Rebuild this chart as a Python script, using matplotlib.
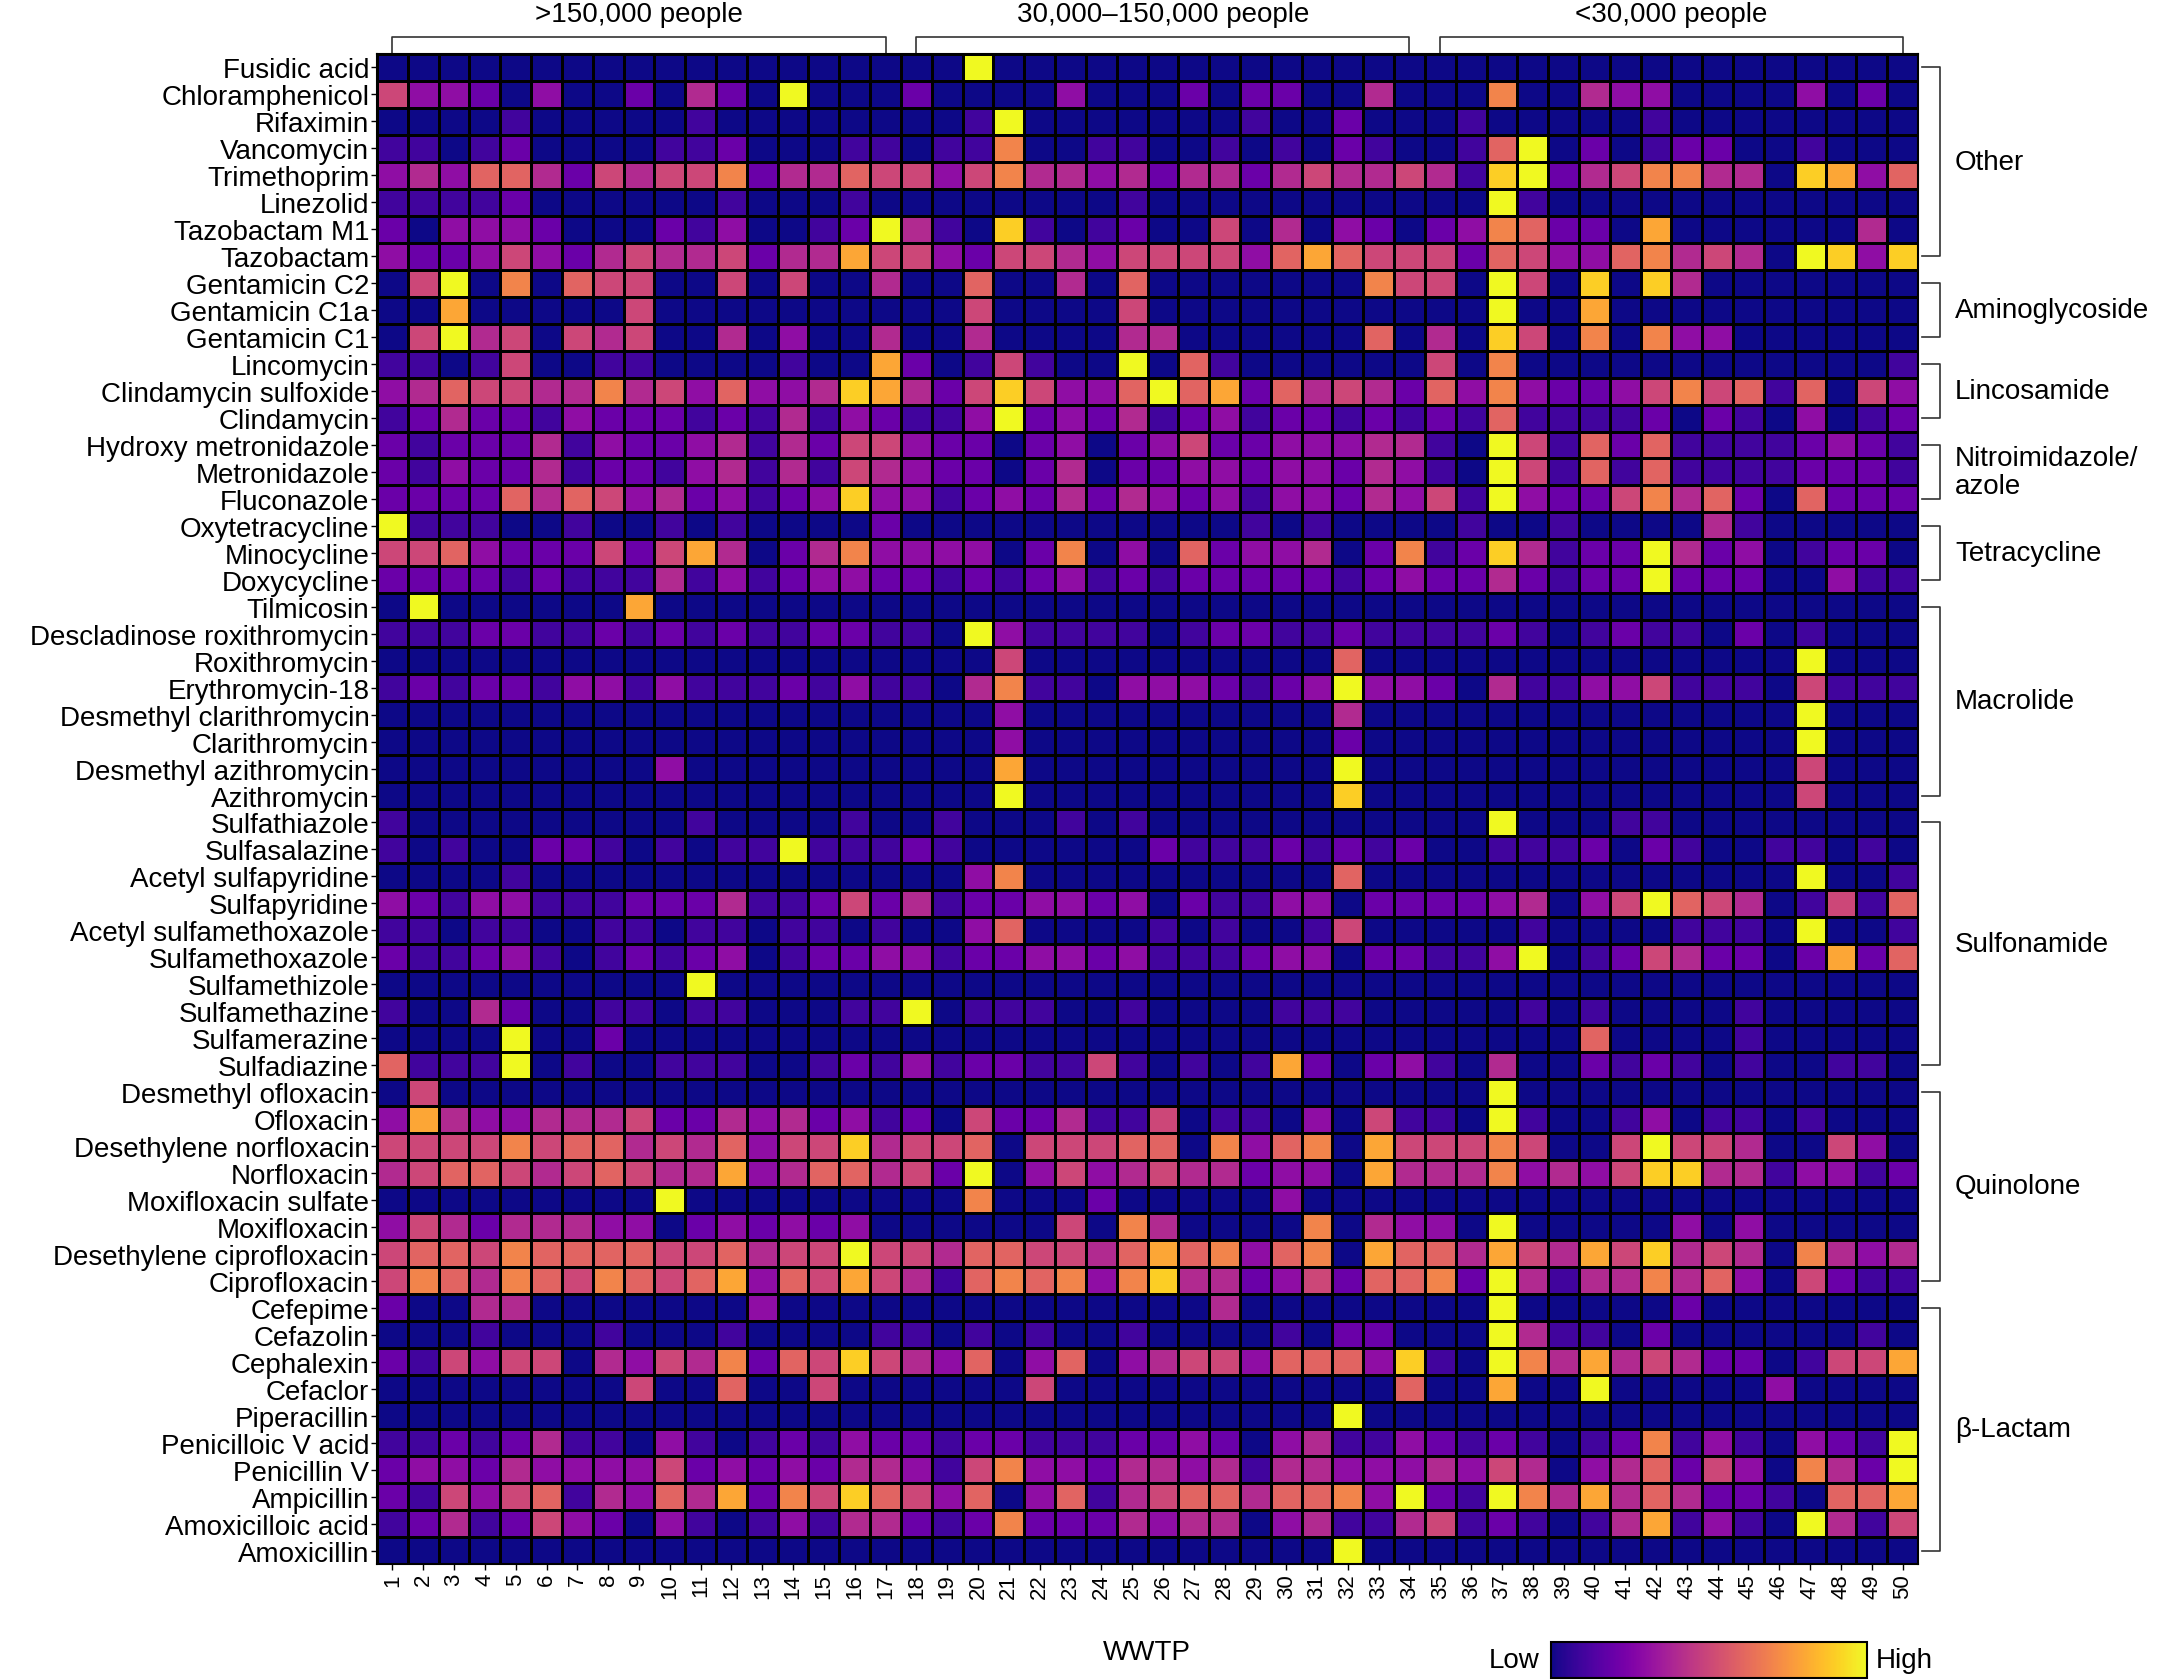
import numpy as np
import matplotlib.pyplot as plt
from matplotlib import colors, colorbar

plt.rcParams['font.family'] = ['Liberation Sans', 'DejaVu Sans']

# relative level per cell: 0-9 -> 0.0-0.9, y -> 1.0 (max)
# each row is WWTP 1-17 | 18-34 | 35-50
other_names = ["Fusidic acid", "Chloramphenicol", "Rifaximin", "Vancomycin",
               "Trimethoprim", "Linezolid", "Tazobactam M1", "Tazobactam"]
other = [
    "00000000000000000 00y00000000000000 0000000000000000",
    "5332030020420y000 20000300020220040 0070043300003020",
    "00001000001000000 001y0000000100200 0100000100000000",
    "11012000011200011 01170011001010210 016y020122001000",
    "34366425455724465 53574434244245445 419y245774409836",
    "11112000000100010 00000001000000000 00y1000000000000",
    "2033320002130012y 41091012005040320 2376220800000040",
    "32235324544524485 53255435555368655 526533674540y939",
]
amino_names = ["Gentamicin C2", "Gentamicin C1a", "Gentamicin C1"]
amino = [
    "05y07065500505004 00600406000000075 50y5090940000000",
    "00800000500000000 00500005000000000 00y0080000000000",
    "05y45054500403004 00400004400000060 4095070733000000",
]
linco_names = ["Lincomycin", "Clindamycin sulfoxide", "Clindamycin"]
linco = [
    "11015001100001008 2015100y061000000 5070000000000001",
    "34655447453633498 42595336y68264542 6373223575616053",
    "12422132221214132 113y2324123122121 2161111202103012",
]
nitro_names = ["Hydroxy metronidazole", "Metronidazole", "Fluconazole"]
nitro = [
    "21222413223414255 32202302352233344 10y5162611112321",
    "21322412213414154 32202402233233243 10y5161611112221",
    "22226465342312393 31232424323133243 51y3225746206222",
]
tetra_names = ["Oxytetracycline", "Minocycline", "Doxycycline"]
tetra = [
    "y1110010010100002 00000000000101000 0100100004100000",
    "55632225258402473 33302703062334027 1294122y42301220",
    "22221211141312332 21212312122222123 2242122y22200311",
]
macro_names = ["Tilmicosin", "Descladinose roxithromycin", "Roxithromycin",
               "Erythromycin-18", "Desmethyl clarithromycin", "Clarithromycin",
               "Desmethyl azithromycin", "Azithromycin"]
macro = [
    "0y000000800000000 00000000000000000 0000000000000000",
    "11122112121211221 10y31111012211211 1121012110201000",
    "00000000000000000 00050000000000600 000000000000y000",
    "12122133131112131 10471103332123y33 2041133511105111",
    "00000000000000000 00030000000000400 000000000000y000",
    "00000000000000000 00030000000000200 000000000000y000",
    "00000000030000000 00080000000000y00 0000000000005000",
    "00000000000000000 000y0000000000900 0000000000005000",
]
sulfa_names = ["Sulfathiazole", "Sulfasalazine", "Acetyl sulfapyridine",
               "Sulfapyridine", "Acetyl sulfamethoxazole", "Sulfamethoxazole",
               "Sulfamethizole", "Sulfamethazine", "Sulfamerazine", "Sulfadiazine"]
sulfa = [
    "10000000001000010 01000101000000000 00y0001100000000",
    "1010022101011y111 21000000211121212 0011120210011010",
    "00001000000000000 00370000000000600 000000000000y001",
    "32133111222411252 41223323021133022 2234035y65401516",
    "11011001101101101 00360000101001500 000100001110y001",
    "21123101212301223 31223323111233022 113y012542202826",
    "0000000000y000000 00000000000000000 0000000000000000",
    "10042001101100011 y0111001000011100 0001010000100000",
    "0000y002000000000 00000000000000000 0000060000100000",
    "6111y010011100121 31221151010182023 1040021210100110",
]
quino_names = ["Desmethyl ofloxacin", "Ofloxacin", "Desethylene norfloxacin",
               "Norfloxacin", "Moxifloxacin sulfate", "Moxifloxacin",
               "Desethylene ciprofloxacin", "Ciprofloxacin"]
quino = [
    "05000000000000000 00000000000000000 00y0000000000000",
    "38433444522434231 20522411501103051 10y1001301101000",
    "55557566454635594 55605556607367085 5575005y55400530",
    "45665456544834664 52y03534544233084 4473435994413312",
    "000000000y0000000 00700020000030000 0000000000000000",
    "35424443302323230 00000507400007043 30y0000030300000",
    "566576666556455y5 54665546867367086 6485485945407434",
    "57647657656836585 41676737944235266 72y4144746305211",
]
lactam_names = ["Cefepime", "Cefazolin", "Cephalexin", "Cefaclor", "Piperacillin",
                "Penicilloic V acid", "Penicillin V", "Ampicillin",
                "Amoxicilloic acid", "Amoxicillin"]
lactam = [
    "20044000000030000 00000000004000000 00y0000020000000",
    "00010001000100001 10101001000010220 00y4110200000010",
    "21535504354726595 43603603455366639 10y7484542201558",
    "00000000500600500 00005000000000006 00800y0000030000",
    "00000000000000000 00000000000000y00 0000000000000000",
    "11212411031012132 21221112232034113 212101271310321y",
    "23324333352323244 31573324434144333 435403462530742y",
    "21535614364827596 5360361456646673y 21y7484642210668",
    "12412532031013144 21272224344034114 512101481310y415",
    "00000000000000000 00000000000000y00 0000000000000000",
]

wwtp = list(range(1, 51))
pop_labels = [">150,000 people", "30,000\u2013150,000 people", "<30,000 people"]
pop_ranges = [(1, 17), (18, 34), (35, 50)]

classes = [("Other", other_names, other),
           ("Aminoglycoside", amino_names, amino),
           ("Lincosamide", linco_names, linco),
           ("Nitroimidazole/\nazole", nitro_names, nitro),
           ("Tetracycline", tetra_names, tetra),
           ("Macrolide", macro_names, macro),
           ("Sulfonamide", sulfa_names, sulfa),
           ("Quinolone", quino_names, quino),
           ("\u03b2-Lactam", lactam_names, lactam)]

names, rows, spans = [], [], []
for lab, nm, rw in classes:
    start = len(names) + 1
    names += nm
    rows += rw
    spans.append((lab, start, len(names)))


def to_vals(s):
    s = s.replace(" ", "")
    assert len(s) == len(wwtp), s
    return [1.0 if c == "y" else int(c) / 10 for c in s]


data = np.array([to_vals(r) for r in rows])

fig = plt.figure(figsize=(21.6, 16.81), dpi=100)
ax = fig.add_axes([377 / 2160, 1 - 1565 / 1681, (1918 - 377) / 2160, (1565 - 55) / 1681])

xe = np.arange(0.5, len(wwtp) + 1)
ye = np.arange(0.5, len(names) + 1)
ax.pcolormesh(xe, ye, data, cmap="plasma", vmin=0, vmax=1,
              edgecolors="black", linewidth=2)
ax.set_xlim(0.5, len(wwtp) + 0.5)
ax.set_ylim(len(names) + 0.5, 0.5)
ax.set_xticks(wwtp)
ax.set_xticklabels(wwtp, rotation=90, fontsize=16)
ax.set_yticks(range(1, len(names) + 1))
ax.set_yticklabels(names, fontsize=20)
ax.tick_params(axis="y", length=4.5, width=1, pad=1)
ax.tick_params(axis="x", length=4.5, width=1, pad=2)
for s in ax.spines.values():
    s.set_linewidth(1.5)

# population brackets on top
for (a, b), lab in zip(pop_ranges, pop_labels):
    ax.plot([a, a, b, b], [0.5, -0.13, -0.13, 0.5], color="#333333", lw=1.2, clip_on=False)
    ax.text((a + b) / 2, -1.0, lab, ha="center", va="center", fontsize=20)

# drug class brackets on the right
for lab, a, b in spans:
    ax.plot([50.63, 51.2, 51.2, 50.63], [a, a, b, b], color="#333333", lw=1.2, clip_on=False)
    ax.text(51.7, (a + b) / 2, lab, ha="left", va="center", fontsize=20, linespacing=1.1)

fig.text(1147 / 2160, 1 - 1653 / 1681, "WWTP", ha="center", va="center", fontsize=20)

cax = fig.add_axes([1551 / 2160, 2 / 1681, (1867 - 1551) / 2160, 36 / 1681])
cb = colorbar.ColorbarBase(cax, cmap="plasma", norm=colors.Normalize(0, 1),
                           orientation="horizontal")
cb.set_ticks([])
cb.outline.set_linewidth(1.5)
fig.text(1540 / 2160, 1 - 1661 / 1681, "Low", ha="right", va="center", fontsize=20)
fig.text(1876 / 2160, 1 - 1661 / 1681, "High", ha="left", va="center", fontsize=20)

fig.savefig("out.png", dpi=100)
